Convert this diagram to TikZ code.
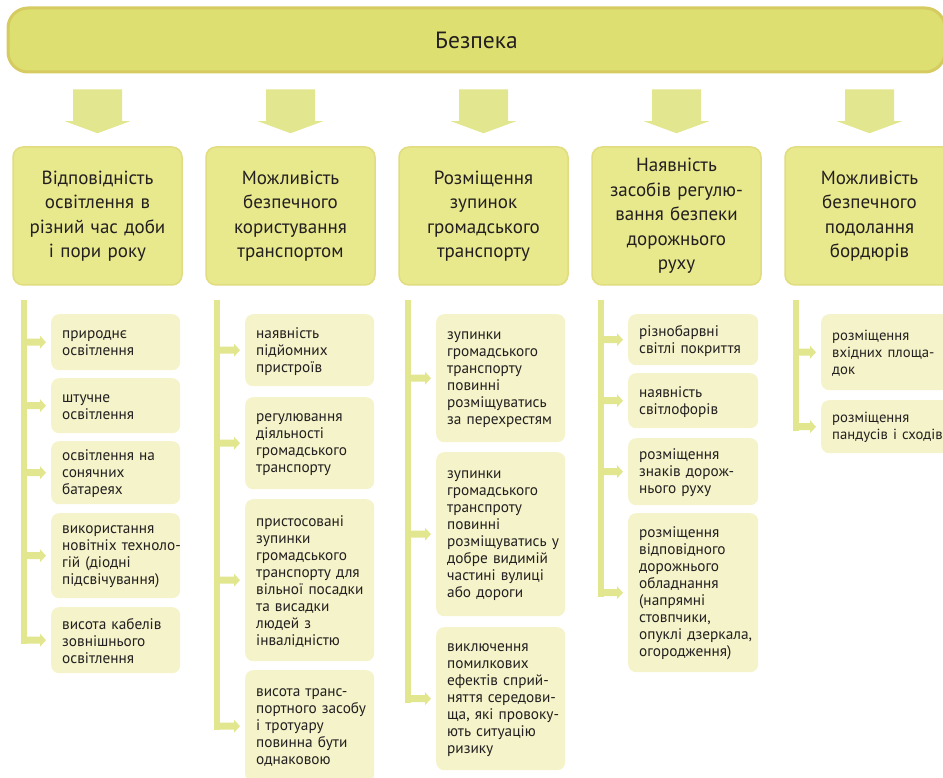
\documentclass[tikz,border=0pt]{standalone}
\usepackage{fontspec}
\setmainfont{PT Sans}
\usetikzlibrary{calc}
\definecolor{bannerfill}{RGB}{221,224,112}
\definecolor{bannerline}{RGB}{214,203,96}
\definecolor{catfill}{RGB}{232,232,140}
\definecolor{catline}{RGB}{226,220,128}
\definecolor{armfill}{RGB}{226,230,142}
\definecolor{itemfill}{RGB}{245,243,201}
\definecolor{ink}{RGB}{35,31,32}
\tikzset{
  banner/.style={fill=bannerfill, draw=bannerline, line width=3pt, rounded corners=20pt,
    minimum width=937pt, minimum height=64pt, text=ink, font=\fontsize{23.5}{27}\selectfont},
  cat/.style={fill=catfill, draw=catline, line width=1.5pt, rounded corners=10pt,
    minimum width=169pt, minimum height=138pt, text width=165pt, align=center, inner sep=0pt,
    text=ink, font=\fontsize{19}{24.5}\selectfont},
  itembox/.style={fill=itemfill, rounded corners=8pt, anchor=north west, inner sep=0pt},
  itemtext/.style={anchor=west, text width=125pt, align=left, inner sep=0pt, text=ink,
    font=\fontsize{15.3}{17}\selectfont},
  bar/.style={fill=armfill, inner sep=0pt, minimum width=6pt, anchor=north},
  arm/.style={fill=armfill}
}
% item box: #1 name, #2 left x, #3 top y, #4 bottom y, #5 width, #6 text
\newcommand\itembox[6]{%
  \node[itembox, minimum width=#5pt, minimum height={(#4-#3)*1pt}] (#1) at (#2,#3) {};
  \node[itemtext] (#1t) at ($(#1.west)+(11,1)$) {#6};}
% branch arrow from bar #1 to box #2
\newcommand\branch[2]{%
  \fill[arm] ($(#1.center |- #2.west)+(0,-3.5)$) -- ($(#2.west)+(-11,-3.5)$) -- ($(#2.west)+(-11,-6.5)$)
    -- ($(#2.west)+(-5,0)$) -- ($(#2.west)+(-11,6.5)$) -- ($(#2.west)+(-11,3.5)$)
    -- ($(#1.center |- #2.west)+(0,3.5)$) -- cycle;}
% block arrow from banner to category #1
\newcommand\blockarrow[1]{%
  \fill[arm] ($(#1.north |- top.south)+(-24.5,16)$) -- ($(#1.north |- top.south)+(24.5,16)$)
    -- ($(#1.north)+(24.5,-25)$) -- ($(#1.north)+(32.5,-25)$) -- ($(#1.north)+(0,-13)$)
    -- ($(#1.north)+(-32.5,-25)$) -- ($(#1.north)+(-24.5,-25)$) -- cycle;}
\begin{document}
\begin{tikzpicture}[x=1pt,y=-1pt]
\useasboundingbox (0,0) rectangle (943,778);
\node[banner] (top) at (476.5,40) {\raisebox{-2pt}{Безпека}};
\node[cat] (c1) at (97.5,216) {Відповідність\\освітлення в\\різний час доби\\і пори року};
\node[cat] (c2) at (290.5,216) {Можливість\\безпечного\\користування\\транспортом};
\node[cat] (c3) at (483.5,216) {Розміщення\\зупинок\\громадського\\транспорту};
\node[cat] (c4) at (676.5,216) {Наявність\\засобів регулю-\\вання безпеки\\дорожнього\\руху};
\node[cat] (c5) at (869.5,216) {Можливість\\безпечного\\подолання\\бордюрів};
\foreach \c in {c1,c2,c3,c4,c5} {\blockarrow{\c}}
% bars
\node[bar, minimum height=344pt] (bar1) at (24,300) {};
\node[bar, minimum height=430pt] (bar2) at (216.5,300) {};
\node[bar, minimum height=402.5pt] (bar3) at (408,300) {};
\node[bar, minimum height=296.5pt] (bar4) at (600.5,300) {};
\node[bar, minimum height=130.5pt] (bar5) at (795.5,300) {};
% column 1
\itembox{a1}{51}{314}{370}{129}{природнє\\освітлення}
\itembox{a2}{51}{378}{433}{129}{штучне\\освітлення}
\itembox{a3}{51}{441}{504}{129}{освітлення на\\сонячних\\батареях}
\itembox{a4}{51}{513}{598}{129}{використання\\новітніх техноло-\\гій (діодні\\підсвічування)}
\itembox{a5}{51}{607}{673}{129}{висота кабелів\\зовнішнього\\освітлення}
% column 2
\itembox{b1}{245}{314}{386}{129}{наявність\\підйомних\\пристроїв}
\itembox{b2}{245}{397}{489}{129}{регулювання\\діяльності\\громадського\\транспорту}
\itembox{b3}{245}{499}{661}{129}{пристосовані\\зупинки\\громадського\\транспорту для\\вільної посадки\\та висадки\\людей з\\інвалідністю}
\itembox{b4}{245}{670}{782}{129}{висота транс-\\портного засобу\\і тротуару\\повинна бути\\однаковою}
% column 3
\itembox{d1}{436}{314}{442}{129}{зупинки\\громадського\\транспорту\\повинні\\розміщуватись\\за перехрестям}
\itembox{d2}{436}{452}{616}{129}{зупинки\\громадського\\транспроту\\повинні\\розміщуватись у\\добре видимій\\частині вулиці\\або дороги}
\itembox{d3}{436}{627}{770}{129}{виключення\\помилкових\\ефектів сприй-\\няття середови-\\ща, які провоку-\\ють ситуацію\\ризику}
% column 4
\itembox{e1}{628}{314}{365}{130}{різнобарвні\\світлі покриття}
\itembox{e2}{628}{373}{428}{130}{наявність\\світлофорів}
\itembox{e3}{628}{438}{505}{130}{розміщення\\знаків дорож-\\нього руху}
\itembox{e4}{628}{513}{672}{130}{розміщення\\відповідного\\дорожнього\\обладнання\\(напрямні\\стовпчики,\\опуклі дзеркала,\\огородження)}
% column 5
\itembox{f1}{821}{314}{390}{135}{\fontsize{14.7}{17}\selectfont розміщення\\вхідних площа-\\док}
\itembox{f2}{821}{400}{453}{135}{\fontsize{14.7}{17}\selectfont розміщення\\пандусів і сходів}
% branches
\foreach \b in {a1,a2,a3,a4,a5} {\branch{bar1}{\b}}
\foreach \b in {b1,b2,b3,b4} {\branch{bar2}{\b}}
\foreach \b in {d1,d2,d3} {\branch{bar3}{\b}}
\foreach \b in {e1,e2,e3,e4} {\branch{bar4}{\b}}
\foreach \b in {f1,f2} {\branch{bar5}{\b}}
\end{tikzpicture}
\end{document}
